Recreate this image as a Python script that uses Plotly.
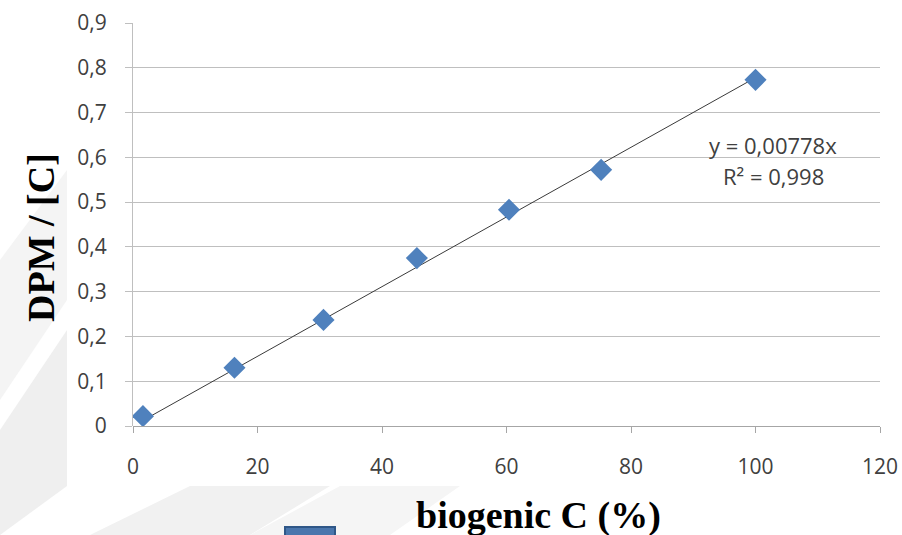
import plotly.graph_objects as go

# Data
biogenic_c = [1.6, 16.3, 30.6, 45.6, 60.4, 75.2, 100.0]
dpm_ratio = [0.022, 0.130, 0.237, 0.375, 0.483, 0.572, 0.773]
slope = 0.00778
trend_x = [1.6, 100.0]
x_ticks = [0, 20, 40, 60, 80, 100, 120]
x_tick_labels = ["0", "20", "40", "60", "80", "100", "120"]
y_ticks = [0, 0.1, 0.2, 0.3, 0.4, 0.5, 0.6, 0.7, 0.8, 0.9]
y_tick_labels = ["0", "0,1", "0,2", "0,3", "0,4", "0,5", "0,6", "0,7", "0,8", "0,9"]
eq_text = "y = 0,00778x"
r2_text = "R² = 0,998"
x_title = "<b>biogenic C (%)</b>"
y_title = "<b>DPM / [C]</b>"

W, H = 902, 535
L, R, T, B = 133, 880, 23, 426


def px(x):
    return (x - L) / (R - L)


def py(y):
    return (B - y) / (B - T)


fig = go.Figure()

fig.add_trace(go.Scatter(
    x=trend_x, y=[slope * v for v in trend_x], mode="lines",
    line=dict(color="#3a3a3a", width=1), showlegend=False, hoverinfo="skip"))

fig.add_trace(go.Scatter(
    x=biogenic_c, y=dpm_ratio, mode="markers",
    marker=dict(symbol="diamond", size=17, color="#4f81bd",
                line=dict(width=0)),
    showlegend=False))

shapes = []
# faint decorative background bands
bands = [
    [(0, 260), (67, 170), (67, 300), (0, 400)],
    [(0, 430), (67, 330), (67, 486), (0, 535)],
    [(90, 535), (190, 486), (330, 486), (250, 535)],
    [(250, 535), (340, 486), (460, 486), (390, 535)],
]
fills = ["#f4f4f4", "#efefef", "#f1f1f1", "#f5f5f5"]
for poly, fc in zip(bands, fills):
    path = "M " + " L ".join(f"{px(a)},{py(b)}" for a, b in poly) + " Z"
    shapes.append(dict(type="path", xref="paper", yref="paper", path=path,
                       fillcolor=fc, line=dict(width=0), layer="below"))
# white chart area
shapes.append(dict(type="rect", xref="paper", yref="paper",
                   x0=px(67), x1=px(902), y0=py(486), y1=py(0),
                   fillcolor="white", line=dict(width=0), layer="below"))
# small blue square at bottom
shapes.append(dict(type="rect", xref="paper", yref="paper",
                   x0=px(285), x1=px(335), y0=py(540), y1=py(527),
                   fillcolor="#4a76ad", line=dict(color="#2f5788", width=2),
                   layer="above"))

fig.update_layout(
    width=W, height=H,
    margin=dict(l=L, r=W - R, t=T, b=H - B, autoexpand=False),
    paper_bgcolor="white", plot_bgcolor="rgba(0,0,0,0)",
    shapes=shapes,
    font=dict(family="Open Sans, sans-serif", color="#404040", size=21),
    xaxis=dict(range=[0, 120], tickvals=x_ticks, ticktext=x_tick_labels,
               showgrid=False, zeroline=False, showline=False,
               ticks="outside", ticklen=6, tickcolor="#a6a6a6",
               ticklabelstandoff=16,
               tickfont=dict(size=21, color="#404040")),
    yaxis=dict(range=[0, 0.9], tickvals=y_ticks, ticktext=y_tick_labels,
               showgrid=True, gridcolor="#bfbfbf", gridwidth=1,
               zeroline=True, zerolinecolor="#a6a6a6", zerolinewidth=1,
               showline=True, linecolor="#bfbfbf", linewidth=1,
               ticks="outside", ticklen=7, tickcolor="#bfbfbf",
               ticklabelstandoff=14,
               tickfont=dict(size=21, color="#404040")),
    annotations=[
        dict(text=eq_text, xref="paper", yref="paper", x=px(773), y=py(145),
             showarrow=False, font=dict(size=22, color="#404040"),
             xanchor="center", yanchor="middle"),
        dict(text=r2_text, xref="paper", yref="paper", x=px(773), y=py(176),
             showarrow=False, font=dict(size=22, color="#404040"),
             xanchor="center", yanchor="middle"),
        dict(text=x_title, xref="paper", yref="paper", x=px(538), y=py(515),
             showarrow=False, xanchor="center", yanchor="middle",
             font=dict(family="Liberation Serif, serif", size=38,
                       color="black")),
        dict(text=y_title, xref="paper", yref="paper", x=px(41), y=py(238),
             showarrow=False, xanchor="center", yanchor="middle",
             textangle=-90,
             font=dict(family="Liberation Serif, serif", size=38,
                       color="black")),
    ],
)

fig.write_html("out.html", config={"displayModeBar": False},
               post_script="document.body.style.margin='0';"
                           "document.body.style.overflow='hidden';")
